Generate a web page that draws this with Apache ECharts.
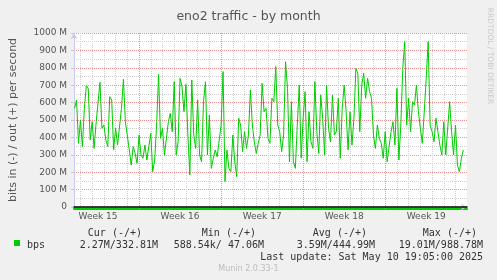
<!DOCTYPE html>
<html><head><meta charset="utf-8">
<script src="https://cdn.jsdelivr.net/npm/echarts@6/dist/echarts.min.js"></script>
<style>html,body{margin:0;padding:0;background:#f0f0f0}#c{width:497px;height:280px}</style>
</head><body><div id="c"></div>
<script>
// time in days, 0 = start of Week 16
const startDay = -5.5;
const stepDays = 1 / 6;
const outValues = [
  567,615,366,500,347,567,697,682,385,490,337,481,471,717,452,471,385,347,634,615,328,452,356,347,567,734,490,490,328,241,347,308,251,414,
  299,280,356,270,280,423,203,270,471,762,395,452,299,308,490,538,433,720,299,375,740,690,548,705,414,184,730,414,337,615,299,260,605,720,
  299,529,222,280,328,289,299,471,778,146,328,222,203,414,260,174,510,471,318,433,337,414,673,471,375,308,366,414,711,548,567,395,366,625,
  605,807,471,433,318,414,835,682,260,605,260,222,471,701,280,510,663,260,548,375,337,720,433,308,644,510,299,701,452,375,644,414,433,625,
  280,567,701,548,328,548,356,510,797,768,433,701,768,625,740,663,625,414,337,471,395,366,280,433,260,251,433,490,356,682,270,471,797,950,
  471,625,433,605,586,701,548,452,366,548,740,950,471,433,375,510,433,356,299,490,299,289,605,433,299,471,241,203,280,328
];
const weekLabels = ['Week 15','Week 16','Week 17','Week 18','Week 19'];
const weekCenters = [-3.5, 3.5, 10.5, 17.5, 24.5];
const weekStarts = [0, 7, 14, 21];
const legendHeaders = ['Cur (-/+)','Min (-/+)','Avg (-/+)','Max (-/+)'];
const legendValues = ['2.27M/332.81M','588.54k/ 47.06M','3.59M/444.99M','19.01M/988.78M'];
const seriesName = 'bps';
const lastUpdate = 'Last update: Sat May 10 19:05:00 2025';
const footer = 'Munin 2.0.33-1';

const xMin = -5.55, xMax = 27.98;
const dayLines = [];
for (let d = Math.ceil(xMin); d <= Math.floor(xMax); d++) if (d % 7 !== 0) dayLines.push(d);

const data = outValues.map((v, i) => [startDay + i * stepDays, v]);
const mono = '10px "DejaVu Sans Mono"';
const txtCol = '#333';
const headerX = [142, 256, 367, 477];
const valueX = [158, 264, 375, 483];

const graphic = [];
graphic.push({type:'text', x:490, y:56, rotation:-Math.PI/2, style:{text:'RRDTOOL / TOBI OETIKER', font:'7.5px "DejaVu Sans"', fill:'#c8c8c8', textAlign:'center', textVerticalAlign:'middle'}});
graphic.push({type:'rect', shape:{x:14, y:240, width:6, height:6}, style:{fill:'#00cc00'}});
graphic.push({type:'text', x:27, y:245, style:{text:seriesName, font:mono, fill:txtCol, textAlign:'left', textVerticalAlign:'middle'}});
legendHeaders.forEach((t, i) => graphic.push({type:'text', x:headerX[i], y:233, style:{text:t, font:mono, fill:txtCol, textAlign:'right', textVerticalAlign:'middle'}}));
legendValues.forEach((t, i) => graphic.push({type:'text', x:valueX[i], y:245, style:{text:t, font:mono, fill:txtCol, textAlign:'right', textVerticalAlign:'middle'}}));
graphic.push({type:'text', x:483, y:257, style:{text:lastUpdate, font:mono, fill:txtCol, textAlign:'right', textVerticalAlign:'middle'}});
graphic.push({type:'text', x:248.5, y:269, style:{text:footer, font:'8px "DejaVu Sans"', fill:'#bdbdbd', textAlign:'center', textVerticalAlign:'middle'}});

const common = {type:'value', min:xMin, max:xMax, gridIndex:0, position:'bottom'};
const chart = echarts.init(document.getElementById('c'), null, {renderer:'canvas'});
chart.setOption({
  animation:false,
  backgroundColor:'#f0f0f0',
  textStyle:{fontFamily:'DejaVu Sans'},
  title:{text:'eno2 traffic - by month', left:'center', top:5, textStyle:{fontSize:12.5, fontWeight:'normal', color:'#555', fontFamily:'DejaVu Sans'}},
  grid:{left:66, right:30, top:33, bottom:73, show:true, backgroundColor:'#fff', borderWidth:0},
  xAxis:[
    Object.assign({}, common, {z:5,
      axisLine:{show:true, onZero:false, lineStyle:{color:'#000', width:1.5}},
      axisTick:{show:false}, splitLine:{show:false},
      axisLabel:{customValues:weekCenters, formatter:v => weekLabels[weekCenters.indexOf(v)] || '', color:'#555', fontSize:9, margin:5, fontFamily:'DejaVu Sans'}}),
    Object.assign({}, common, {
      axisLine:{show:false, onZero:false}, axisTick:{show:false, customValues:dayLines}, axisLabel:{show:false},
      splitLine:{show:true, lineStyle:{color:'#cfcfcf', width:1, type:[1,1]}}}),
    Object.assign({}, common, {
      axisLine:{show:true, onZero:false, lineStyle:{color:'#c8c8f0', width:1}, symbol:['none','arrow'], symbolSize:[5,6]},
      axisTick:{show:true, length:2, inside:false, customValues:weekStarts, lineStyle:{color:'#f08080'}}, axisLabel:{show:false},
      splitLine:{show:true, lineStyle:{color:'#f09090', width:1, type:[1,1]}}}),
    Object.assign({}, common, {offset:2,
      axisLine:{show:true, onZero:false, lineStyle:{color:'#00cc00', width:2}}, axisTick:{show:false}, axisLabel:{show:false}, splitLine:{show:false}})
  ],
  yAxis:{type:'value', min:0, max:1000, interval:100,
    name:'bits in (-) / out (+) per second', nameLocation:'middle', nameRotate:90, nameGap:55,
    nameTextStyle:{fontSize:11, color:'#555', fontFamily:'DejaVu Sans'},
    axisLine:{show:true, onZero:false, lineStyle:{color:'#c8c8f0'}, symbol:['none','arrow'], symbolSize:[5,6]},
    axisTick:{show:true, length:3, lineStyle:{color:'#c8c8c8'}},
    axisLabel:{formatter:v => v === 0 ? '0' : v + ' M', color:'#555', fontSize:9, margin:7, fontFamily:'DejaVu Sans'},
    splitLine:{show:true, lineStyle:{color:'#f09090', width:1, type:[1,1]}},
    minorTick:{show:false, splitNumber:2},
    minorSplitLine:{show:true, lineStyle:{color:'#cfcfcf', width:1, type:[1,1]}}
  },
  series:[{type:'line', name:seriesName, xAxisIndex:0, data:data, showSymbol:false, symbol:'none',
    lineStyle:{color:'#00cc00', width:1}, itemStyle:{color:'#00cc00'}, z:3}],
  graphic:graphic
});
</script></body></html>
